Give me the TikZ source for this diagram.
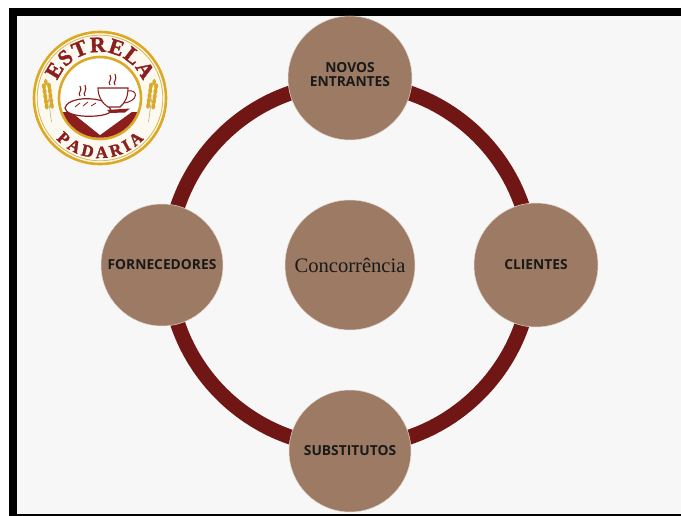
\documentclass[tikz,border=0pt]{standalone}
\usepackage{fontspec}
\setmainfont{Open Sans}
\newfontfamily\serifface{Liberation Serif}
\newfontfamily\logoface[UprightFont={* Bold},UprightFeatures={FakeBold=1.6}]{Liberation Serif}
\usetikzlibrary{decorations.text}
\definecolor{bgc}{HTML}{F7F7F7}
\definecolor{ringc}{HTML}{701716}
\definecolor{discc}{HTML}{9D7A63}
\definecolor{gold}{HTML}{D9A927}
\definecolor{logored}{HTML}{8C1F1E}
\definecolor{cream}{HTML}{FCF9F1}
\tikzset{
  disc/.style={circle,fill=discc,draw=white!70!discc,line width=.5pt,inner sep=0pt,align=center,text=black!90,font=\fontsize{13.8pt}{14pt}\selectfont\bfseries},
  steamline/.style={draw=logored,line width=1.1pt},
}
\begin{document}
\begin{tikzpicture}[x=1pt,y=-1pt]
\useasboundingbox (0,0) rectangle (681,516);
\fill[white] (0,0) rectangle (681,516);
\fill[black] (9,8) rectangle (681,516);
\fill[bgc] (16.5,16.5) rectangle (681,513.5);
% ring
\coordinate (ringcentre) at (350,265);
\draw[ringc,line width=15pt] (ringcentre) circle[radius=182];
% discs
\node[disc,minimum size=124pt,label={[name=toptext,align=center,text=black!90,font=\fontsize{13.8pt}{14pt}\selectfont\bfseries,yshift=3pt]center:NOVOS\\ENTRANTES}] (top) at (350,78) {};
\node[disc,minimum size=124pt] (right) at (536,265) {CLIENTES};
\node[disc,minimum size=122pt] (bottom) at (350,451) {SUBSTITUTOS};
\node[disc,minimum size=122pt] (left) at (162,265) {FORNECEDORES};
\node[disc,minimum size=130pt,font=\serifface\fontsize{20.6pt}{20.6pt}\selectfont] (centre) at (350,265) {Concorrência};
% logo
\begin{scope}[shift={(100,98)}]
\fill[cream] (0,0) circle[radius=68];
\draw[gold,line width=2.6pt] (0,0) circle[radius=66];
\draw[gold!80,line width=.9pt] (0,0) circle[radius=62.8];
\fill[white] (0,0) circle[radius=41];
\draw[gold,line width=2.6pt] (0,0) circle[radius=41];
\begin{scope}
\clip (0,0) circle[radius=39.7];
\fill[logored] (-40,14) rectangle (40,41);
\fill[white] (-30,13) -- (33,13) -- (0,37) -- cycle;
\end{scope}
% bread
\fill[white] (-35,10) .. controls (-33,1) and (-14,-1) .. (-1,2) .. controls (8,4) and (13,11) .. (9,15) .. controls (0,20) and (-34,20) .. (-35,10);
\draw[logored,line width=1.2pt] (-35,10) .. controls (-33,1) and (-14,-1) .. (-1,2) .. controls (8,4) and (13,11) .. (9,15) .. controls (0,20) and (-34,20) .. (-35,10);
\draw[logored,line width=.8pt] (-25,9) -- (-20,5) (-17,8) -- (-12,4) (-9,8) -- (-4,5);
% saucer
\fill[logored] (7,12) -- (30,10.5) -- (25,14.5) -- (10,15) -- cycle;
% cup
\draw[logored,line width=1.1pt,fill=white] (-2,-10) -- (28,-10) .. controls (28,-1) and (25,5) .. (20,9) -- (8,9) .. controls (3,6) and (-2,-1) .. (-2,-10) -- cycle;
\draw[logored,line width=1pt] (28,-7) .. controls (38,-9) and (39,3) .. (24,5);
% steam
\foreach \sx/\sy in {-17/-2,13/-13}{
  \draw[steamline,shift={(\sx,\sy)}] (-3,0) .. controls (-6,-3) and (0,-5) .. (-3,-10);
  \draw[steamline,shift={(\sx,\sy)}] (2,0) .. controls (-1,-3) and (5,-5) .. (2,-11);
}
% wheat
\foreach \wx/\wa in {-52/8,52/-8}{
  \begin{scope}[shift={(\wx,-1)},rotate=\wa]
  \draw[gold!60!black!60,line width=.5pt] (0,0) -- (0,25);
  \foreach \wy in {-11,-6,-1,4,9}{
    \fill[gold] (-2.6,\wy) ellipse[x radius=2,y radius=3.2];
    \fill[gold] (2.6,\wy) ellipse[x radius=2,y radius=3.2];
  }
  \fill[gold] (0,-15) ellipse[x radius=1.8,y radius=3.2];
  \end{scope}
}
% text
\path[decorate,decoration={text along path,text align=fit to path,
  text={|\logoface\fontsize{22pt}{22pt}\selectfont\color{logored}|ESTRELA}}]
  (-158:46) arc[start angle=-158,end angle=-22,radius=46];
\path[decorate,decoration={text along path,text align=fit to path,
  text={|\logoface\fontsize{17pt}{17pt}\selectfont\color{logored}|PADARIA}}]
  (137:60) arc[start angle=137,end angle=43,radius=60];
\end{scope}
\end{tikzpicture}
\end{document}
